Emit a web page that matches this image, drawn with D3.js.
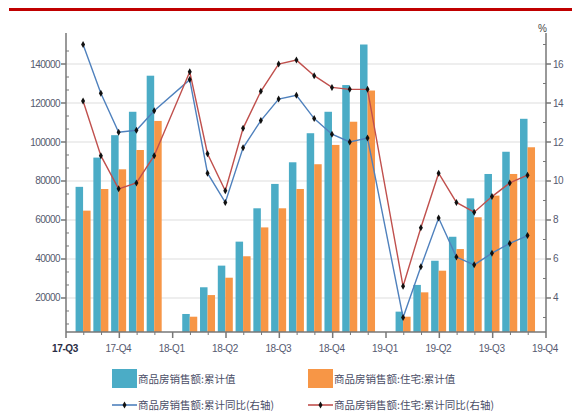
<!DOCTYPE html>
<html>
<head>
<meta charset="utf-8">
<script src="https://cdn.jsdelivr.net/npm/d3@7"></script>
<style>
  html, body { margin: 0; padding: 0; background: #fff; }
  svg { display: block; font-family: "Liberation Sans", Arial, sans-serif; }
</style>
</head>
<body>
<svg id="chart" width="572" height="419"></svg>
<script>
// Monthly cumulative periods (Jan-Feb combined, so no January entry)
const periods = [
  "2017-08","2017-09","2017-10","2017-11","2017-12",
  "2018-02","2018-03","2018-04","2018-05","2018-06","2018-07","2018-08","2018-09","2018-10","2018-11","2018-12",
  "2019-02","2019-03","2019-04","2019-05","2019-06","2019-07","2019-08","2019-09"
];
// 商品房销售额:累计值 (亿元)
const salesTotal = [77000, 92000, 103500, 115500, 134000,
  11800, 25500, 36600, 48900, 66000, 78500, 89600, 104500, 115500, 129200, 150000,
  13000, 26700, 39100, 51400, 71100, 83600, 95000, 111900];
// 商品房销售额:住宅:累计值 (亿元)
const salesResidential = [64800, 75900, 86000, 95900, 110800,
  10400, 21500, 30400, 41400, 56200, 66000, 75900, 88600, 98500, 110400, 126400,
  10400, 22900, 34000, 45100, 61400, 72500, 83600, 97300];
// 商品房销售额:累计同比 (%)
const yoyTotal = [17.0, 14.5, 12.5, 12.6, 13.6,
  15.2, 10.4, 8.9, 11.7, 13.1, 14.2, 14.4, 13.2, 12.4, 12.0, 12.2,
  3.0, 5.6, 8.1, 6.1, 5.7, 6.3, 6.8, 7.2];
// 商品房销售额:住宅:累计同比 (%)
const yoyResidential = [14.1, 11.3, 9.6, 9.9, 11.3,
  15.6, 11.4, 9.5, 12.7, 14.6, 16.0, 16.2, 15.4, 14.8, 14.7, 14.7,
  4.6, 7.6, 10.4, 8.9, 8.4, 9.2, 9.9, 10.3];
// Quarter tick labels
const quarterLabels = ["17-Q3","17-Q4","18-Q1","18-Q2","18-Q3","18-Q4","19-Q1","19-Q2","19-Q3","19-Q4"];
const leftTicks = [20000, 40000, 60000, 80000, 100000, 120000, 140000];
const rightTicks = [4, 6, 8, 10, 12, 14, 16];

const legendItems = [
  { label: "商品房销售额:累计值", type: "bar", color: "#4BACC6" },
  { label: "商品房销售额:住宅:累计值", type: "bar", color: "#F79646" },
  { label: "商品房销售额:累计同比(右轴)", type: "line", color: "#4F81BD" },
  { label: "商品房销售额:住宅:累计同比(右轴)", type: "line", color: "#C0504D" }
];

const svg = d3.select("#chart");
const plot = { left: 66, right: 546, top: 33, bottom: 332 };

// month index counted from 2017-07
const monthIndex = p => { const [y, m] = p.split("-").map(Number); return (y - 2017) * 12 + m - 7; };

const x = d3.scaleLinear().domain([0, 27]).range([plot.left, plot.right]);
const yL = d3.scaleLinear().domain([2560, 155900]).range([plot.bottom, plot.top]);
const yR = d3.scaleLinear().domain([2.256, 17.59]).range([plot.bottom, plot.top]);

// red rule at the top
svg.append("rect").attr("x", 9).attr("y", 8).attr("width", 563).attr("height", 3).attr("fill", "#C00000");

// gridlines
svg.append("g").selectAll("line").data(leftTicks).join("line")
  .attr("x1", plot.left).attr("x2", plot.right)
  .attr("y1", d => yL(d)).attr("y2", d => yL(d))
  .attr("stroke", "#e8e8e8").attr("stroke-width", 1.5);

// bars
const data = periods.map((p, i) => ({
  k: monthIndex(p), total: salesTotal[i], res: salesResidential[i],
  yt: yoyTotal[i], yr: yoyResidential[i]
}));
const bw = 7.5;
svg.append("g").selectAll("rect").data(data).join("rect")
  .attr("x", d => x(d.k) - bw - 0.7).attr("width", bw)
  .attr("y", d => yL(d.total)).attr("height", d => plot.bottom - yL(d.total))
  .attr("fill", "#4BACC6");
svg.append("g").selectAll("rect").data(data).join("rect")
  .attr("x", d => x(d.k) - 0.7).attr("width", bw)
  .attr("y", d => yL(d.res)).attr("height", d => plot.bottom - yL(d.res))
  .attr("fill", "#F79646");

// axes
const axisColor = "#777";
const labelColor = "#555a70";
const gL = svg.append("g");
gL.append("line").attr("x1", plot.left).attr("x2", plot.left).attr("y1", plot.top).attr("y2", plot.bottom)
  .attr("stroke", axisColor).attr("stroke-width", 1.5);
gL.selectAll(".minor").data(d3.range(1, 23).map(i => i * 20000 / 3).filter(v => v % 20000 > 1 && v % 20000 < 19999 && yL(v) > plot.top))
  .join("line").attr("x1", plot.left).attr("x2", plot.left + 3)
  .attr("y1", d => yL(d)).attr("y2", d => yL(d)).attr("stroke", axisColor);
gL.selectAll(".major").data(leftTicks).join("line").attr("x1", plot.left - 5).attr("x2", plot.left)
  .attr("y1", d => yL(d)).attr("y2", d => yL(d)).attr("stroke", axisColor).attr("stroke-width", 1.5);
gL.selectAll("text").data(leftTicks).join("text")
  .attr("x", plot.left - 6).attr("y", d => yL(d) + 3.5).attr("text-anchor", "end")
  .attr("font-size", 10).attr("fill", labelColor).attr("letter-spacing", -0.6)
  .text(d => d);

const gR = svg.append("g");
gR.append("line").attr("x1", plot.right).attr("x2", plot.right).attr("y1", plot.top).attr("y2", plot.bottom)
  .attr("stroke", axisColor).attr("stroke-width", 1.5);
gR.selectAll(".minor").data(d3.range(3, 18).filter(v => v % 2 === 1))
  .join("line").attr("x1", plot.right - 3).attr("x2", plot.right)
  .attr("y1", d => yR(d)).attr("y2", d => yR(d)).attr("stroke", axisColor);
gR.selectAll(".major").data(rightTicks).join("line").attr("x1", plot.right).attr("x2", plot.right + 5)
  .attr("y1", d => yR(d)).attr("y2", d => yR(d)).attr("stroke", axisColor).attr("stroke-width", 1.5);
gR.selectAll("text").data(rightTicks).join("text")
  .attr("x", plot.right + 7).attr("y", d => yR(d) + 3.5)
  .attr("font-size", 10).attr("fill", labelColor).attr("letter-spacing", -0.6)
  .text(d => d);
svg.append("text").attr("x", plot.right - 8).attr("y", 32).attr("font-size", 10)
  .attr("fill", "#444").text("%");

const gX = svg.append("g");
gX.append("line").attr("x1", plot.left).attr("x2", plot.right).attr("y1", plot.bottom).attr("y2", plot.bottom)
  .attr("stroke", axisColor).attr("stroke-width", 1.5);
gX.selectAll(".tick").data(d3.range(0, 28)).join("line")
  .attr("x1", d => x(d)).attr("x2", d => x(d))
  .attr("y1", plot.bottom).attr("y2", d => plot.bottom + (d % 3 === 0 ? 6 : 3))
  .attr("stroke", axisColor).attr("stroke-width", d => d % 3 === 0 ? 1.5 : 1);
gX.selectAll("text").data(quarterLabels).join("text")
  .attr("x", (d, i) => x(i * 3) - 1).attr("y", 352).attr("text-anchor", "middle")
  .attr("font-size", 10).attr("letter-spacing", -0.4)
  .attr("fill", (d, i) => i === 0 ? "#2a2d45" : labelColor)
  .attr("font-weight", (d, i) => i === 0 ? "bold" : "normal")
  .text(d => d);

// YoY lines on the right axis
const lineTotal = d3.line().x(d => x(d.k) - 0.7).y(d => yR(d.yt));
const lineRes = d3.line().x(d => x(d.k) - 0.7).y(d => yR(d.yr));
svg.append("path").datum(data).attr("d", lineTotal).attr("fill", "none")
  .attr("stroke", "#4F81BD").attr("stroke-width", 1.4);
svg.append("path").datum(data).attr("d", lineRes).attr("fill", "none")
  .attr("stroke", "#C0504D").attr("stroke-width", 1.4);
const diamond = d3.symbol().type(d3.symbolDiamond).size(14);
svg.append("g").selectAll("path").data(data).join("path")
  .attr("d", diamond).attr("transform", d => `translate(${x(d.k) - 0.7},${yR(d.yt)})`).attr("fill", "#111");
svg.append("g").selectAll("path").data(data).join("path")
  .attr("d", diamond).attr("transform", d => `translate(${x(d.k) - 0.7},${yR(d.yr)})`).attr("fill", "#111");

// legend
const legendPos = [[112, 369], [308, 369], [112, 397], [308, 397]];
const lg = svg.append("g");
legendItems.forEach((it, i) => {
  const [lx, ly] = legendPos[i];
  if (it.type === "bar") {
    lg.append("rect").attr("x", lx).attr("y", ly).attr("width", 25).attr("height", 19).attr("fill", it.color);
    lg.append("text").attr("x", lx + 26).attr("y", ly + 14).attr("font-size", 10.5)
      .attr("font-family", "'Noto Sans CJK SC', sans-serif").attr("fill", "#4a4d66").text(it.label);
  } else {
    const cy = ly + 8;
    lg.append("line").attr("x1", lx).attr("x2", lx + 25).attr("y1", cy).attr("y2", cy)
      .attr("stroke", it.color).attr("stroke-width", 1.6);
    lg.append("path").attr("d", diamond).attr("transform", `translate(${lx + 12.5},${cy})`).attr("fill", "#111");
    lg.append("text").attr("x", lx + 26).attr("y", cy + 4).attr("font-size", 10.5)
      .attr("font-family", "'Noto Sans CJK SC', sans-serif").attr("fill", "#4a4d66").text(it.label);
  }
});
</script>
</body>
</html>
